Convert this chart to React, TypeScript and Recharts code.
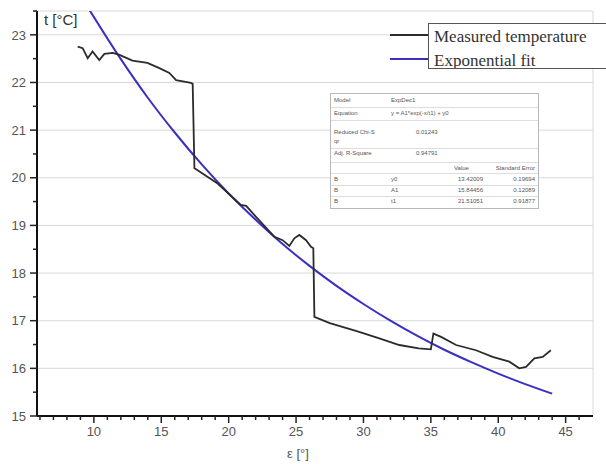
import { LineChart, Line, XAxis, YAxis, CartesianGrid } from "recharts";

// measured temperature
const measuredEps = [
  8.8, 9.17, 9.54, 9.9, 10.4, 10.78, 11.4, 11.9, 12.86, 13.97, 14.86, 15.6, 16.1, 16.7, 17.2, 17.33,
  17.46, 17.58, 19.18, 20.9, 21.3, 22.03, 23.4, 24.0, 24.5, 24.87, 25.24, 25.74, 26.11, 26.28,
  26.36, 27.5, 29.5, 31.18, 32.66, 34.1, 35.0, 35.19, 35.76, 36.87, 38.35, 39.58, 40.82, 41.56,
  42.06, 42.68, 43.3, 43.9,
];
const measuredTemp = [
  22.75, 22.72, 22.51, 22.65, 22.47, 22.6, 22.62, 22.58, 22.46, 22.41, 22.3, 22.2, 22.05, 22.02, 21.99, 21.97,
  20.2, 20.18, 19.88, 19.43, 19.41, 19.18, 18.76, 18.69, 18.57, 18.73, 18.8, 18.69, 18.55, 18.52,
  17.08, 16.95, 16.78, 16.63, 16.49, 16.42, 16.4, 16.73, 16.66, 16.49, 16.38, 16.24, 16.14, 16.0,
  16.03, 16.21, 16.24, 16.38,
];

// exponential fit curve
const fitEps = [9.7, 12, 14, 16, 18, 20, 22, 24, 26, 28, 30, 32, 34, 36, 38, 40, 42, 44];
const fitTemp = [
  23.51, 22.49, 21.68, 20.95, 20.28, 19.67, 19.12, 18.61, 18.15, 17.73, 17.35, 17.0, 16.68, 16.39,
  16.13, 15.89, 15.67, 15.47,
];

const xMajorTicks = [10, 15, 20, 25, 30, 35, 40, 45];
const xAllTicks = [
  6, 7, 8, 9, 10, 11, 12, 13, 14, 15, 16, 17, 18, 19, 20, 21, 22, 23, 24, 25, 26, 27, 28, 29, 30,
  31, 32, 33, 34, 35, 36, 37, 38, 39, 40, 41, 42, 43, 44, 45, 46,
];
const yMajorTicks = [15, 16, 17, 18, 19, 20, 21, 22, 23];
const yAllTicks = [
  15, 15.5, 16, 16.5, 17, 17.5, 18, 18.5, 19, 19.5, 20, 20.5, 21, 21.5, 22, 22.5, 23, 23.5,
];

const legendLabels = ["Measured temperature", "Exponential fit"];

// fit report table (tiny text in the original)
const reportTop = [
  ["Model", "ExpDec1"],
  ["Equation", "y = A1*exp(-x/t1) + y0"],
];
const reportStats = [
  ["Reduced Chi-Sqr", "0.01243"],
  ["Adj. R-Square", "0.94791"],
];
const paramNames = ["y0", "A1", "t1"];
const paramValues = ["13.42009", "15.84456", "21.51051"];
const paramErrors = ["0.19694", "0.12089", "0.91877"];

const X_DOMAIN: [number, number] = [5.78, 47.03];
const Y_DOMAIN: [number, number] = [15, 23.5];

const BLACK = "#2b2b2b";
const BLUE = "#3a30c0";
const FONT = "Arial, 'Liberation Sans', sans-serif";

function XTick(props: any) {
  const { x, y, payload } = props;
  const major = payload.value % 5 === 0;
  const len = major ? 7 : 4;
  return (
    <g>
      <line x1={x} y1={y} x2={x} y2={y + len} stroke="#222" strokeWidth={1.5} />
      {major && (
        <text x={x} y={y + len + 3} dy="0.75em" textAnchor="middle" fill="#555" fontSize={13} fontFamily={FONT}>
          {payload.value}
        </text>
      )}
    </g>
  );
}

function YTick(props: any) {
  const { x, y, payload } = props;
  const major = Number.isInteger(payload.value);
  const len = major ? 7 : 4;
  return (
    <g>
      <line x1={x - len} y1={y} x2={x} y2={y} stroke="#222" strokeWidth={1.5} />
      {major && (
        <text x={x - len - 4} y={y} dy="0.36em" textAnchor="end" fill="#555" fontSize={13} fontFamily={FONT}>
          {payload.value}
        </text>
      )}
    </g>
  );
}

export default function App() {
  const measured = measuredEps.map((eps, i) => ({ eps, temp: measuredTemp[i] }));
  const fit = fitEps.map((eps, i) => ({ eps, temp: fitTemp[i] }));

  const cell: React.CSSProperties = { position: "absolute", whiteSpace: "nowrap" };

  return (
    <div
      style={{
        position: "absolute",
        left: 0,
        top: 0,
        width: 606,
        height: 464,
        background: "#fff",
        overflow: "hidden",
      }}
    >
      <LineChart width={606} height={464} margin={{ top: 11, right: 13, bottom: 0, left: 0 }}>
        {/* hidden axes that only place the grid at the major ticks */}
        <XAxis
          xAxisId="grid"
          orientation="top"
          type="number"
          domain={X_DOMAIN}
          allowDataOverflow
          ticks={xMajorTicks}
          height={0}
          hide
        />
        <YAxis
          yAxisId="grid"
          orientation="right"
          type="number"
          domain={Y_DOMAIN}
          allowDataOverflow
          ticks={yMajorTicks}
          width={0}
          hide
        />
        <CartesianGrid xAxisId="grid" yAxisId="grid" stroke="#d8d8d8" strokeWidth={1} />
        <XAxis
          xAxisId="main"
          type="number"
          dataKey="eps"
          domain={X_DOMAIN}
          allowDataOverflow
          ticks={xAllTicks}
          interval={0}
          axisLine={{ stroke: "#111", strokeWidth: 2 }}
          tickLine={false}
          tickSize={0}
          tickMargin={0}
          tick={<XTick />}
          height={48}
          label={{
            value: "ε [°]",
            position: "insideBottom",
            offset: 6,
            dx: -17,
            fill: "#555",
            fontSize: 13,
            fontFamily: FONT,
          }}
        />
        <YAxis
          yAxisId="main"
          type="number"
          domain={Y_DOMAIN}
          allowDataOverflow
          ticks={yAllTicks}
          interval={0}
          axisLine={{ stroke: "#111", strokeWidth: 2 }}
          tickLine={false}
          tickSize={0}
          tickMargin={0}
          tick={<YTick />}
          width={37}
        />
        <Line
          xAxisId="main"
          yAxisId="main"
          data={fit}
          dataKey="temp"
          type="monotone"
          stroke={BLUE}
          strokeWidth={2}
          dot={false}
          isAnimationActive={false}
        />
        <Line
          xAxisId="main"
          yAxisId="main"
          data={measured}
          dataKey="temp"
          type="linear"
          stroke={BLACK}
          strokeWidth={1.8}
          dot={false}
          isAnimationActive={false}
        />
      </LineChart>

      {/* y axis title */}
      <div
        style={{
          position: "absolute",
          left: 44,
          top: 11,
          fontFamily: FONT,
          fontSize: 15,
          color: "#333",
        }}
      >
        t [°C]
      </div>

      {/* legend */}
      <svg style={{ position: "absolute", left: 388, top: 28 }} width={42} height={36}>
        <line x1={2} y1={7} x2={42} y2={7} stroke={BLACK} strokeWidth={2} />
        <line x1={2} y1={31} x2={42} y2={31} stroke={BLUE} strokeWidth={2} />
      </svg>
      <div
        style={{
          position: "absolute",
          left: 428,
          top: 23,
          width: 200,
          height: 44,
          border: "1.5px solid #555",
          background: "#fff",
          fontFamily: "'Liberation Serif', 'Times New Roman', serif",
          fontSize: 17,
          color: "#333",
          overflow: "hidden",
        }}
      >
        {legendLabels.map((l, i) => (
          <div key={l} style={{ ...cell, left: 5, top: i * 24 + 2, lineHeight: "22px" }}>
            {l}
          </div>
        ))}
      </div>

      {/* fit report */}
      <div
        style={{
          position: "absolute",
          left: 330,
          top: 93,
          width: 207,
          height: 114,
          border: "1px solid #b8b8b8",
          background: "#fff",
          fontFamily: FONT,
          fontSize: 6,
          color: "#555",
          lineHeight: "7px",
        }}
      >
        {reportTop.map(([k, v], i) => (
          <div
            key={k}
            style={{ position: "absolute", left: 0, top: i * 13, width: 207, height: 13, borderBottom: "1px solid #ddd" }}
          >
            <span style={{ ...cell, left: 3, top: 3 }}>{k}</span>
            <span style={{ ...cell, left: 60, top: 3 }}>{v}</span>
          </div>
        ))}
        {reportStats.map(([k, v], i) => (
          <div
            key={k}
            style={{
              position: "absolute",
              left: 0,
              top: i === 0 ? 33 : 54,
              width: 207,
              height: i === 0 ? 21 : 14,
              borderBottom: "1px solid #ddd",
            }}
          >
            <span style={{ position: "absolute", left: 3, top: 1, width: 42, wordBreak: "break-all", lineHeight: "9px" }}>
              {k}
            </span>
            <span style={{ ...cell, left: 85, top: 2 }}>{v}</span>
          </div>
        ))}
        <div style={{ position: "absolute", left: 0, top: 69, width: 207, height: 10, borderBottom: "1px solid #ddd" }}>
          <span style={{ ...cell, left: 123, top: 2 }}>Value</span>
          <span style={{ ...cell, right: 3, top: 2 }}>Standard Error</span>
        </div>
        {paramNames.map((p, i) => (
          <div
            key={p}
            style={{
              position: "absolute",
              left: 0,
              top: 80 + i * 11,
              width: 207,
              height: 11,
              borderBottom: i < 2 ? "1px solid #ddd" : "none",
            }}
          >
            <span style={{ ...cell, left: 3, top: 2 }}>B</span>
            <span style={{ ...cell, left: 60, top: 2 }}>{p}</span>
            <span style={{ ...cell, right: 55, top: 2 }}>{paramValues[i]}</span>
            <span style={{ ...cell, right: 3, top: 2 }}>{paramErrors[i]}</span>
          </div>
        ))}
      </div>
    </div>
  );
}
